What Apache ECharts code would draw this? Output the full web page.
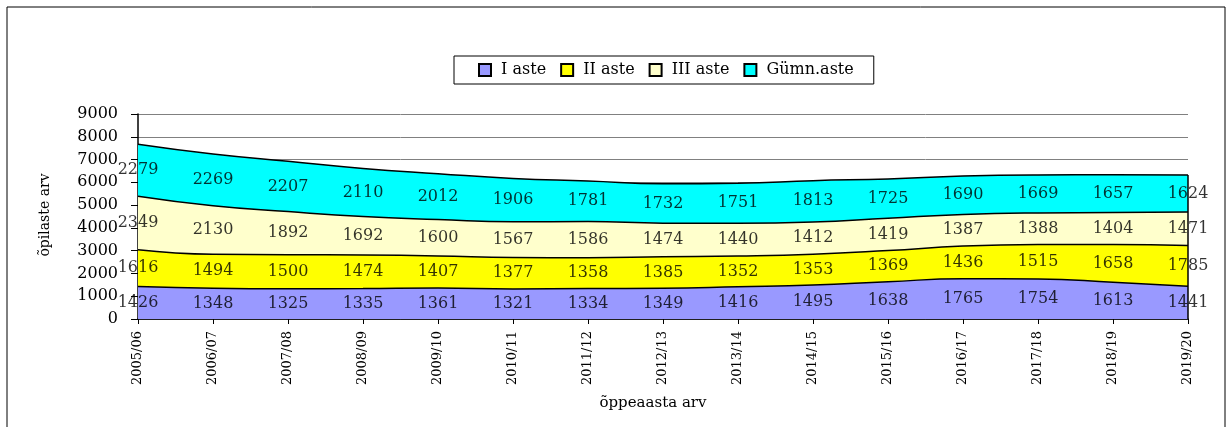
<!DOCTYPE html>
<html lang="et">
<head>
<meta charset="utf-8">
<title>Õpilaste arv</title>
<style>
  html, body { margin: 0; padding: 0; background: #fff; }
  #chart { width: 1229px; height: 427px; }
</style>
</head>
<body>
<div id="chart"></div>
<script src="https://cdn.jsdelivr.net/npm/echarts@6/dist/echarts.min.js"></script>
<script>
// õppeaastad
var years = ['2005/06', '2006/07', '2007/08', '2008/09', '2009/10', '2010/11', '2011/12', '2012/13',
    '2013/14', '2014/15', '2015/16', '2016/17', '2017/18', '2018/19', '2019/20'];
var names = ['I aste', 'II aste', 'III aste', 'Gümn.aste'];
var colors = ['#9999ff', '#ffff00', '#ffffcc', '#00ffff'];

var aste1 = [1426, 1348, 1325, 1335, 1361, 1321, 1334, 1349, 1416, 1495, 1638, 1765, 1754, 1613, 1441];
var aste2 = [1616, 1494, 1500, 1474, 1407, 1377, 1358, 1385, 1352, 1353, 1369, 1436, 1515, 1658, 1785];
var aste3 = [2349, 2130, 1892, 1692, 1600, 1567, 1586, 1474, 1440, 1412, 1419, 1387, 1388, 1404, 1471];
var gymn = [2279, 2269, 2207, 2110, 2012, 1906, 1781, 1732, 1751, 1813, 1725, 1690, 1669, 1657, 1624];

var yTicks = [0, 1000, 2000, 3000, 4000, 5000, 6000, 7000, 8000, 9000];

var font = 'DejaVu Serif';
var all = [aste1, aste2, aste3, gymn];

var series = [];
var base = years.map(function () { return 0; });
all.forEach(function (arr, k) {
    series.push({
        name: names[k],
        type: 'line',
        stack: 'kokku',
        smooth: true,
        symbol: 'none',
        color: colors[k],
        lineStyle: { color: '#000', width: 1.5 },
        areaStyle: { color: colors[k], opacity: 1 },
        itemStyle: { color: colors[k], borderColor: '#000', borderWidth: 1 },
        data: arr,
        z: 2
    });
    // väärtuste sildid riba keskele
    var mids = arr.map(function (v, i) { return [years[i], base[i] + v / 2, v]; });
    series.push({
        type: 'scatter',
        symbolSize: 0,
        silent: true,
        z: 5,
        label: {
            show: true,
            position: 'inside',
            color: '#000',
            fontFamily: font,
            fontSize: 16,
            formatter: function (p) { return p.value[2]; }
        },
        data: mids
    });
    base = base.map(function (b, i) { return b + arr[i]; });
});

// parem serv
series[6].markLine = {
    silent: true,
    symbol: 'none',
    label: { show: false },
    lineStyle: { color: '#000', width: 1.5, type: 'solid' },
    data: [[{ coord: [years[years.length - 1], 0] }, { coord: [years[years.length - 1], base[base.length - 1]] }]]
};

var chart = echarts.init(document.getElementById('chart'));
chart.setOption({
    animation: false,
    textStyle: { fontFamily: font, color: '#000' },
    grid: { left: 138, right: 41, top: 114, bottom: 108 },
    legend: {
        data: names,
        left: 454,
        top: 56,
        orient: 'horizontal',
        borderColor: '#000',
        borderWidth: 1,
        padding: [6, 20, 6, 24],
        itemGap: 14,
        itemWidth: 12,
        itemHeight: 12,
        icon: 'rect',
        formatter: function (n) { return ' ' + n; },
        textStyle: { fontFamily: font, fontSize: 16, color: '#000' }
    },
    xAxis: {
        type: 'category',
        data: years,
        boundaryGap: false,
        axisLine: { lineStyle: { color: '#000', width: 1.5 } },
        axisTick: { show: true, length: 5, lineStyle: { color: '#000' } },
        axisLabel: { rotate: 90, margin: 12, fontFamily: font, fontSize: 13, color: '#000', interval: 0 },
        splitLine: { show: false }
    },
    yAxis: {
        type: 'value',
        min: yTicks[0],
        max: yTicks[yTicks.length - 1],
        interval: 1000,
        axisLine: { show: true, lineStyle: { color: '#000', width: 1.5 } },
        axisTick: { show: true, length: 7, lineStyle: { color: '#000' } },
        axisLabel: {
            margin: 20, fontFamily: font, fontSize: 16, color: '#000',
            formatter: function (v) { return String(v); }
        },
        splitLine: { show: true, lineStyle: { color: '#808080', width: 1 } }
    },
    graphic: [
        {
            type: 'rect',
            shape: { x: 7, y: 7, width: 1218, height: 440 },
            style: { fill: 'none', stroke: '#000', lineWidth: 1 },
            silent: true
        },
        {
            type: 'text',
            x: 45,
            y: 215,
            rotation: Math.PI / 2,
            style: { text: 'õpilaste arv', font: '14px "DejaVu Serif"', fill: '#000', textAlign: 'center', textVerticalAlign: 'middle' }
        },
        {
            type: 'text',
            x: 653,
            y: 403,
            style: { text: 'õppeaasta arv', font: '15px "DejaVu Serif"', fill: '#000', textAlign: 'center', textVerticalAlign: 'middle' }
        }
    ],
    series: series
});
</script>
</body>
</html>
